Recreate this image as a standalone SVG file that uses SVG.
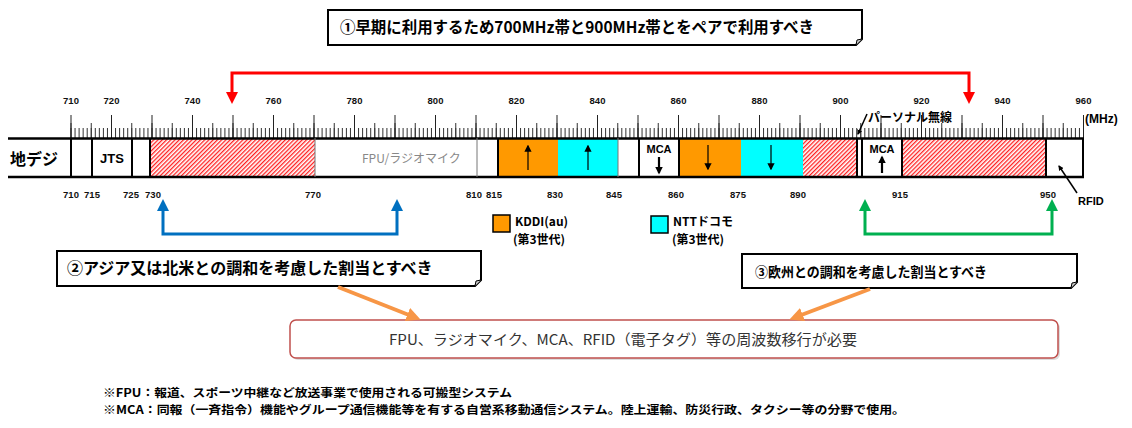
<svg xmlns="http://www.w3.org/2000/svg" width="1132" height="428" viewBox="0 0 1132 428">
<style>
.jp{font-family:"Noto Sans CJK JP","Liberation Sans",sans-serif;font-weight:bold;fill:#000}
.num{font-family:"Liberation Sans",Arial,sans-serif;font-weight:bold;font-size:9.5px;fill:#111;text-anchor:middle}
.box{fill:#fff;stroke:#000;stroke-width:2}
.div{stroke:#000;stroke-width:2}
.thin{stroke:#777;stroke-width:1}
.band-o{fill:#FF9900}
.band-c{fill:#00FFFF}
.hatch{fill:url(#hatch)}
.arr{stroke:#000;stroke-width:1.2;fill:none}
</style>
<defs>
<pattern id="hatch" width="3" height="3" patternUnits="userSpaceOnUse" patternTransform="rotate(45)">
<rect width="3" height="3" fill="#fff"/>
<line x1="0.6" y1="0" x2="0.6" y2="3" stroke="#FF2020" stroke-width="1.4"/>
</pattern>
<marker id="mRed" viewBox="0 0 10 10" refX="5" refY="5" markerWidth="4" markerHeight="4" orient="auto-start-reverse" markerUnits="strokeWidth"><path d="M0,0 L10,5 L0,10 z" fill="#FF0000"/></marker>
<marker id="mBlue" viewBox="0 0 10 10" refX="5" refY="5" markerWidth="4" markerHeight="4" orient="auto-start-reverse" markerUnits="strokeWidth"><path d="M0,0 L10,5 L0,10 z" fill="#0070C0"/></marker>
<marker id="mGreen" viewBox="0 0 10 10" refX="5" refY="5" markerWidth="4" markerHeight="4" orient="auto-start-reverse" markerUnits="strokeWidth"><path d="M0,0 L10,5 L0,10 z" fill="#00B050"/></marker>
<marker id="mOrange" viewBox="0 0 10 10" refX="5" refY="5" markerWidth="3.5" markerHeight="3.5" orient="auto" markerUnits="strokeWidth"><path d="M0,0 L10,5 L0,10 z" fill="#F79646"/></marker>
<marker id="mBlk" viewBox="0 0 10 10" refX="8" refY="5" markerWidth="6" markerHeight="6" orient="auto" markerUnits="strokeWidth"><path d="M0,0 L10,5 L0,10 z" fill="#000"/></marker>
<marker id="mBlk2" viewBox="0 0 10 10" refX="8" refY="5" markerWidth="3.5" markerHeight="3.5" orient="auto" markerUnits="strokeWidth"><path d="M0,0 L10,5 L0,10 z" fill="#000"/></marker>
</defs>
<rect width="1132" height="428" fill="#fff"/>

<!-- Scale ruler -->
<g id="ruler">
<line x1="70.5" y1="133" x2="1086" y2="133" stroke="#333" stroke-width="10" stroke-dasharray="1 3.05"/>
<line x1="70.5" y1="130.5" x2="1086" y2="130.5" stroke="#333" stroke-width="15" stroke-dasharray="1 19.25"/>
<line x1="70.5" y1="126.5" x2="1086" y2="126.5" stroke="#222" stroke-width="23" stroke-dasharray="1 39.5"/>
<g class="num">
<text x="71" y="104">710</text><text x="111.5" y="104">720</text><text x="192.5" y="104">740</text><text x="273.5" y="104">760</text><text x="354.5" y="104">780</text><text x="435.5" y="104">800</text><text x="516.5" y="104">820</text><text x="597.5" y="104">840</text><text x="678.5" y="104">860</text><text x="759.5" y="104">880</text><text x="840.5" y="104">900</text><text x="921.5" y="104">920</text><text x="1002.5" y="104">940</text><text x="1083.5" y="104">960</text>
</g>
<text x="1085" y="123" font-family="Liberation Sans,Arial,sans-serif" font-weight="bold" font-size="12" fill="#000">(MHz)</text>
</g>

<!-- Band bar -->
<g id="band-bar">
<rect x="150" y="138" width="165" height="39" class="hatch"/>
<rect x="498" y="138" width="60" height="39" class="band-o"/>
<rect x="558" y="138" width="60" height="39" class="band-c"/>
<rect x="679" y="138" width="62" height="39" class="band-o"/>
<rect x="741" y="138" width="62" height="39" class="band-c"/>
<rect x="803" y="138" width="54" height="39" class="hatch"/>
<rect x="902" y="138" width="144" height="39" class="hatch"/>
<line x1="8" y1="138.5" x2="1084" y2="138.5" stroke="#000" stroke-width="2.5"/>
<line x1="8" y1="177" x2="1084" y2="177" stroke="#000" stroke-width="2.5"/>
<g class="div">
<line x1="71" y1="138" x2="71" y2="177"/><line x1="92" y1="138" x2="92" y2="177"/><line x1="132" y1="138" x2="132" y2="177"/><line x1="150" y1="138" x2="150" y2="177"/>
<line x1="498" y1="138" x2="498" y2="177"/><line x1="639" y1="138" x2="639" y2="177"/><line x1="679" y1="138" x2="679" y2="177"/>
<line x1="857" y1="138" x2="857" y2="177"/><line x1="862" y1="138" x2="862" y2="177"/><line x1="902" y1="138" x2="902" y2="177"/>
<line x1="1046" y1="138" x2="1046" y2="177"/><line x1="1083" y1="138" x2="1083" y2="177"/>
</g>
<g class="thin">
<line x1="315" y1="138" x2="315" y2="177"/><line x1="477" y1="138" x2="477" y2="177"/><line x1="618" y1="138" x2="618" y2="177"/>
</g>
</g>

<g id="chideji"><text x="10" y="165" class="jp" font-size="16">地デジ</text></g>
<g id="jts"><text x="112" y="163" font-family="Liberation Sans,Arial,sans-serif" font-weight="bold" font-size="13" text-anchor="middle">JTS</text></g>
<g id="fpu"><text x="362" y="163" font-family="Noto Sans CJK JP,sans-serif" font-size="12" fill="#888">FPU/ラジオマイク</text></g>
<g id="kddi-up"><line x1="528" y1="170" x2="528" y2="146" class="arr" marker-end="url(#mBlk)"/></g>
<g id="docomo-up"><line x1="588" y1="170" x2="588" y2="146" class="arr" marker-end="url(#mBlk)"/></g>
<g id="kddi-down"><line x1="708" y1="145" x2="708" y2="169" class="arr" marker-end="url(#mBlk)"/></g>
<g id="docomo-down"><line x1="771" y1="145" x2="771" y2="169" class="arr" marker-end="url(#mBlk)"/></g>
<g id="mca1">
<text x="659" y="153" font-family="Liberation Sans,Arial,sans-serif" font-weight="bold" font-size="11" text-anchor="middle">MCA</text>
<line x1="659" y1="157" x2="659" y2="173" stroke="#000" stroke-width="2.2" marker-end="url(#mBlk2)"/>
</g>
<g id="mca2">
<text x="882" y="153" font-family="Liberation Sans,Arial,sans-serif" font-weight="bold" font-size="11" text-anchor="middle">MCA</text>
<line x1="882" y1="173" x2="882" y2="157" stroke="#000" stroke-width="2.2" marker-end="url(#mBlk2)"/>
</g>
<g id="personal-radio">
<text x="868" y="122" class="jp" font-size="12">パーソナル無線</text>
<line x1="867" y1="114" x2="858" y2="134" stroke="#000" stroke-width="1.5" marker-end="url(#mBlk2)"/>
</g>
<g id="rfid">
<text x="1078" y="205" font-family="Liberation Sans,Arial,sans-serif" font-weight="bold" font-size="11">RFID</text>
<line x1="1077" y1="193" x2="1059" y2="166" stroke="#000" stroke-width="1.5" marker-end="url(#mBlk2)"/>
</g>

<!-- bottom frequency labels -->
<g id="bottom-labels" class="num">
<text x="71" y="198">710</text><text x="92" y="198">715</text><text x="131" y="198">725</text><text x="153" y="198">730</text><text x="313" y="198">770</text><text x="474" y="198">810</text><text x="494" y="198">815</text><text x="555" y="198">830</text><text x="614" y="198">845</text><text x="676" y="198">860</text><text x="738" y="198">875</text><text x="798" y="198">890</text><text x="900" y="198">915</text><text x="1048" y="198">950</text>
</g>

<!-- legend -->
<g id="legend-kddi">
<rect x="493" y="215" width="17" height="17" fill="#FF9900" stroke="#000" stroke-width="1.5"/>
<text x="515" y="226" class="jp" font-size="12">KDDI(au)</text>
<text x="513" y="244" class="jp" font-size="12">(第3世代)</text>
</g>
<g id="legend-docomo">
<rect x="651" y="216" width="17" height="17" fill="#00FFFF" stroke="#000" stroke-width="1.5"/>
<text x="673" y="226" class="jp" font-size="12">NTTドコモ</text>
<text x="672" y="244" class="jp" font-size="12">(第3世代)</text>
</g>

<!-- callout boxes -->
<g id="box1">
<path d="M328,10 H862 V39 L856,45 H328 Z" class="box"/>
<path d="M856,45 L857,40 L862,39" fill="#ccc" stroke="#000" stroke-width="1"/>
<text x="340" y="33" class="jp" font-size="16" textLength="474" lengthAdjust="spacingAndGlyphs">①早期に利用するため700MHz帯と900MHz帯とをペアで利用すべき</text>
</g>
<g id="box2">
<path d="M57,251 H481 V280 L475,286 H57 Z" class="box"/>
<path d="M475,286 L476,281 L481,280" fill="#ccc" stroke="#000" stroke-width="1"/>
<text x="67" y="274" class="jp" font-size="16">②アジア又は北米との調和を考慮した割当とすべき</text>
</g>
<g id="box3">
<path d="M742,254 H1077 V282 L1071,288 H742 Z" class="box"/>
<path d="M1071,288 L1072,283 L1077,282" fill="#ccc" stroke="#000" stroke-width="1"/>
<text x="755" y="277" class="jp" font-size="13.5" textLength="232" lengthAdjust="spacingAndGlyphs">③欧州との調和を考慮した割当とすべき</text>
</g>
<g id="box-bottom">
<rect x="292" y="322" width="768" height="38" rx="6" fill="#ddd"/>
<rect x="290" y="320" width="768" height="38" rx="6" fill="#fff" stroke="#C0504D" stroke-width="1.5"/>
<text x="389" y="345" font-family="Noto Sans CJK JP,sans-serif" font-size="14.5" fill="#333" textLength="468" lengthAdjust="spacingAndGlyphs">FPU、ラジオマイク、MCA、RFID（電子タグ）等の周波数移行が必要</text>
</g>

<!-- notes -->
<g id="notes">
<text x="103" y="397" class="jp" font-size="11.5" textLength="409" lengthAdjust="spacingAndGlyphs">※FPU：報道、スポーツ中継など放送事業で使用される可搬型システム</text>
<text x="103" y="414" class="jp" font-size="11.5" textLength="802" lengthAdjust="spacingAndGlyphs">※MCA：同報（一斉指令）機能やグループ通信機能等を有する自営系移動通信システム。陸上運輸、防災行政、タクシー等の分野で使用。</text>
</g>

<!-- connectors -->
<g id="connectors" fill="none">
<path d="M232,98 V73 H969 V98" stroke="#FF0000" stroke-width="3" marker-start="url(#mRed)" marker-end="url(#mRed)"/>
<path d="M163,205 V234 H397 V205" stroke="#0070C0" stroke-width="3" marker-start="url(#mBlue)" marker-end="url(#mBlue)"/>
<path d="M865,205 V234 H1052 V205" stroke="#00B050" stroke-width="3" marker-start="url(#mGreen)" marker-end="url(#mGreen)"/>
<line x1="338" y1="287" x2="414" y2="317" stroke="#F79646" stroke-width="4" marker-end="url(#mOrange)"/>
<line x1="870" y1="289" x2="796" y2="317" stroke="#F79646" stroke-width="4" marker-end="url(#mOrange)"/>
</g>
</svg>
